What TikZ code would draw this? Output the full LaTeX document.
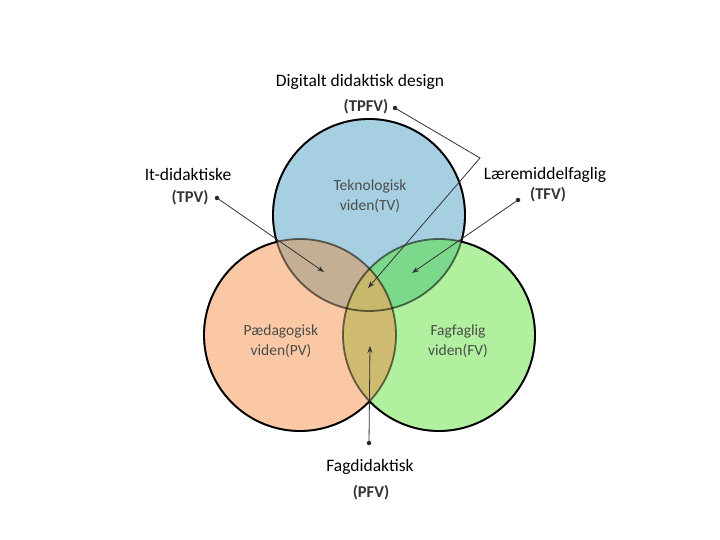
\documentclass[tikz,border=0pt]{standalone}
\usepackage{fontspec}
\setmainfont{Carlito}
\usetikzlibrary{arrows.meta}

\definecolor{tvblue}{RGB}{166,208,226}
\definecolor{pvorange}{RGB}{250,200,164}
\definecolor{fvgreen}{RGB}{176,240,158}
\definecolor{tpbrown}{RGB}{197,175,148}
\definecolor{tfgreen}{RGB}{124,216,138}
\definecolor{pfolive}{RGB}{208,188,112}
\definecolor{tpfolive}{RGB}{200,184,108}

\tikzset{
  ring/.style={line width=1.8pt},
  lbl/.style={font=\fontsize{17.5}{20}\selectfont, inner sep=0pt},
  abbr/.style={font=\fontsize{16.5}{19}\selectfont\bfseries, text=black!80, inner sep=0pt},
  area/.style={font=\fontsize{15.5}{19.5}\selectfont, text=black!70, align=center, inner sep=0pt},
  pin/.style={circle, fill=black!85, inner sep=0pt, minimum size=4.5pt},
  pointer/.style={draw=black!80, line width=0.8pt, -{Stealth[length=7pt,width=5pt]}},
}

\begin{document}
\begin{tikzpicture}[x=1pt, y=-1pt]
\fill[white] (0,0) rectangle (720,540);
\useasboundingbox (0,0) rectangle (720,540);

% Circle centres
\coordinate (T) at (369,215);
\coordinate (P) at (300,335);
\coordinate (F) at (439,335);

% Fills
\fill[tvblue] (T) circle (96pt);
\fill[pvorange] (P) circle (96pt);
\fill[fvgreen] (F) circle (96pt);
\begin{scope}
  \clip (T) circle (96pt);
  \fill[tpbrown] (P) circle (96pt);
  \fill[tfgreen] (F) circle (96pt);
\end{scope}
\begin{scope}
  \clip (P) circle (96pt);
  \fill[pfolive] (F) circle (96pt);
\end{scope}
\begin{scope}
  \clip (T) circle (96pt);
  \clip (P) circle (96pt);
  \fill[tpfolive] (F) circle (96pt);
\end{scope}

% Outlines: muted inside, black outside
\foreach \c in {T,P,F} {
  \draw[ring, draw opacity=0.55] (\c) circle (96pt);
}
\foreach \c/\a/\b in {T/P/F, P/T/F, F/T/P} {
  \begin{scope}[even odd rule]
    \clip (0,0) rectangle (720,540) (\a) circle (96pt);
    \clip (0,0) rectangle (720,540) (\b) circle (96pt);
    \draw[ring] (\c) circle (96pt);
  \end{scope}
}

% Circle texts
\node[area] (tv) at (370,196) {Teknologisk\\viden(TV)};
\node[area] (pv) at (281,341) {Pædagogisk\\viden(PV)};
\node[area] (fv) at (458,341) {Fagfaglig\\viden(FV)};

% Outside labels
\node[lbl] (tpfvlbl) at (360,82) {Digitalt didaktisk design};
\node[abbr] (tpfv) at (366,107) {(TPFV)};
\node[lbl] (tpvlbl) at (188,174) {It-didaktiske};
\node[abbr] (tpv) at (190,198) {(TPV)};
\node[lbl] (tfvlbl) at (545,175) {Læremiddelfaglig};
\node[abbr] (tfv) at (548,195) {(TFV)};
\node[lbl] (pfvlbl) at (370,467) {Fagdidaktisk};
\node[abbr] (pfv) at (371,493) {(PFV)};

% Pointers
\node[pin] (tpfvdot) at (395,108) {};
\node[pin] (tpvdot) at (217,198) {};
\node[pin] (tfvdot) at (518,200) {};
\node[pin] (pfvdot) at (369,443) {};
\coordinate (bend) at (480,158);
\coordinate (tpfvtip) at (368,288);
\coordinate (tpvtip) at (324,272);
\coordinate (tfvtip) at (412,273);
\coordinate (pfvtip) at (370,346);

\draw[pointer] (tpfvdot.center) -- (bend) -- (tpfvtip);
\draw[pointer] (tpvdot.center) -- (tpvtip);
\draw[pointer] (tfvdot.center) -- (tfvtip);
\draw[pointer] (pfvdot.center) -- (pfvtip);
\end{tikzpicture}
\end{document}
